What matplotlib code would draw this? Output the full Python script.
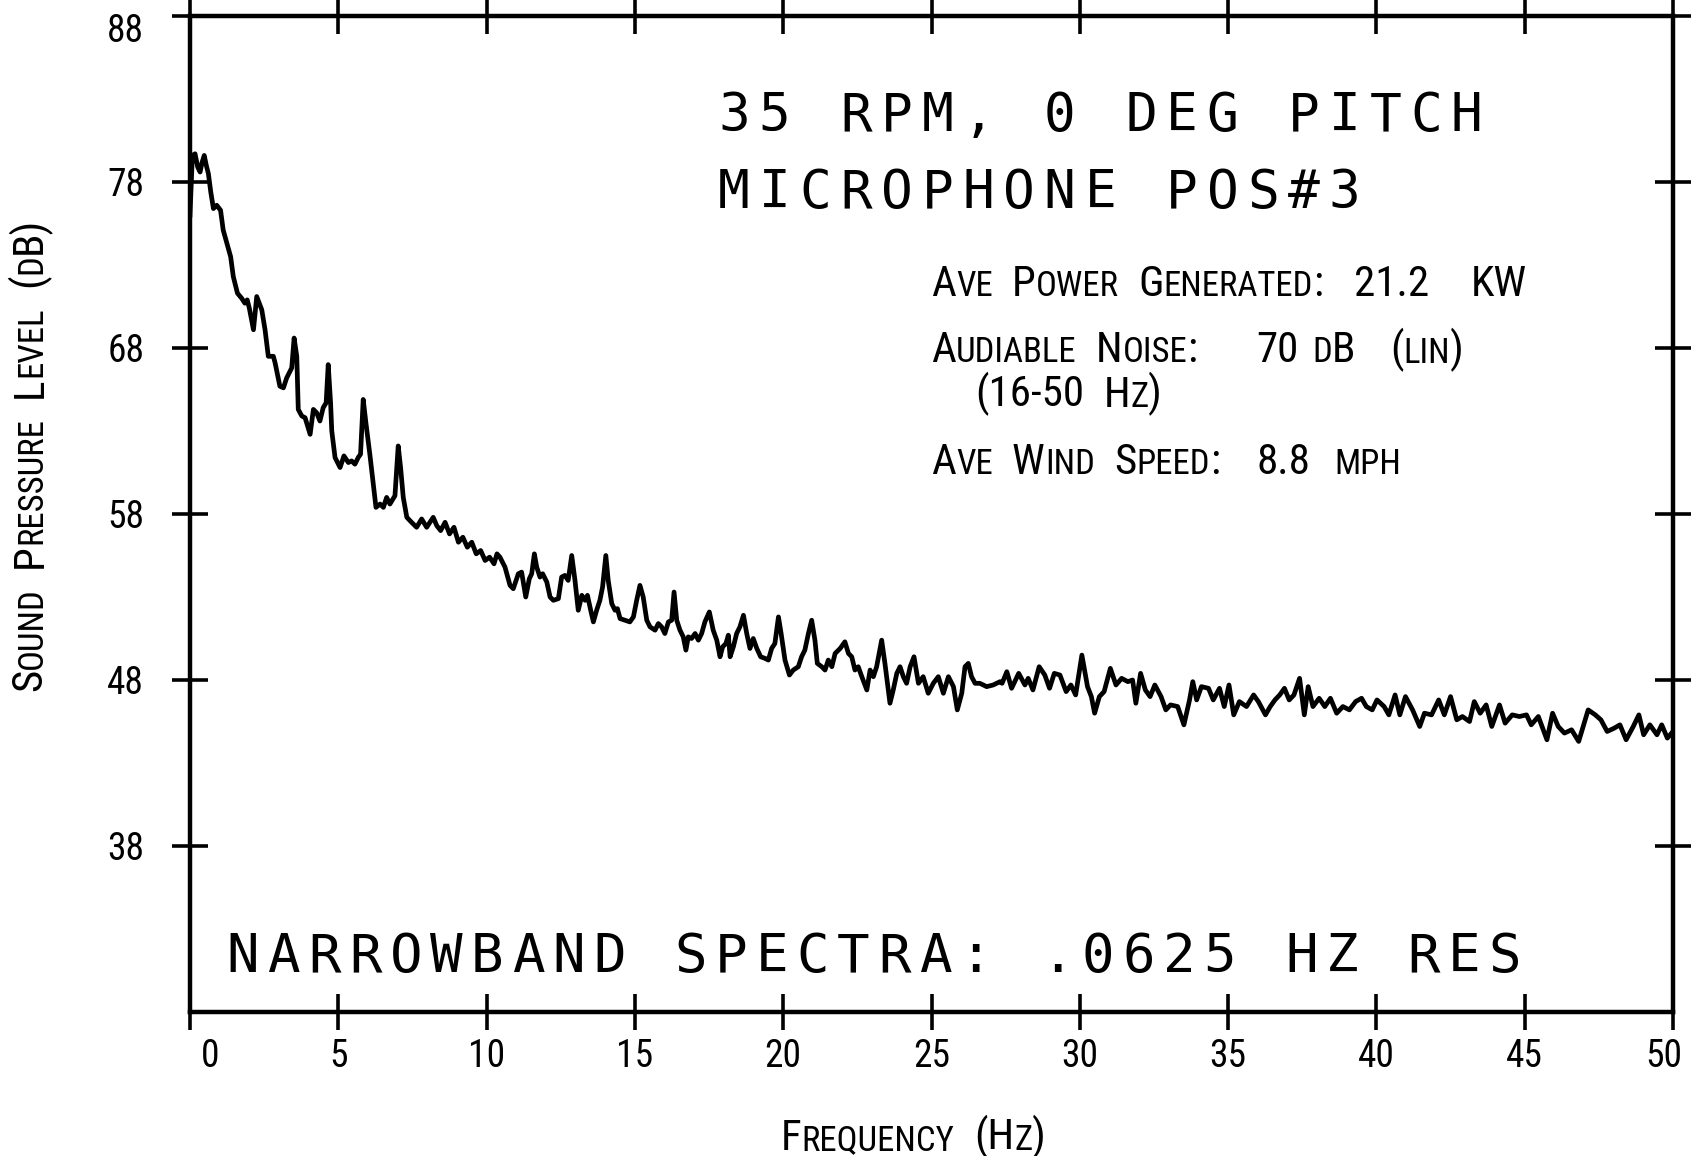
import matplotlib
matplotlib.use("Agg")
import matplotlib.pyplot as plt
from matplotlib import font_manager
from matplotlib.transforms import ScaledTranslation

# ---------------- data ----------------
freq = [0.00, 0.08, 0.17, 0.26, 0.34, 0.41, 0.48, 0.55, 0.62, 0.70, 0.79, 0.90, 1.03, 1.12, 1.29, 1.37,
        1.46, 1.60, 1.74, 1.85, 1.93, 2.00, 2.14, 2.25, 2.42, 2.53, 2.64, 2.81, 2.87, 3.03, 3.15, 3.26,
        3.43, 3.51, 3.60, 3.65, 3.77, 3.88, 4.05, 4.16, 4.27, 4.38, 4.49, 4.59, 4.66, 4.74, 4.78, 4.89,
        5.06, 5.19, 5.34, 5.45, 5.56, 5.67, 5.75, 5.84, 5.93, 6.07, 6.18, 6.27, 6.41, 6.52, 6.63, 6.74,
        6.91, 7.02, 7.10, 7.19, 7.31, 7.47, 7.64, 7.81, 7.98, 8.20, 8.32,
        8.45, 8.60, 8.75, 8.90, 9.05, 9.20, 9.35, 9.50, 9.65, 9.80, 9.95, 10.10, 10.25, 10.35,
        10.45, 10.62, 10.79, 10.90, 11.07, 11.18, 11.32, 11.44, 11.52, 11.61, 11.69, 11.80, 11.89, 12.03,
        12.14, 12.25, 12.42, 12.53, 12.64, 12.75, 12.87, 12.98, 13.09, 13.21, 13.32, 13.40, 13.51, 13.60,
        13.71, 13.82, 13.91, 14.02, 14.10, 14.22, 14.33, 14.41, 14.50, 14.67, 14.83, 14.95, 15.06, 15.17,
        15.28, 15.40, 15.51, 15.68, 15.79, 15.90, 16.01, 16.13, 16.24, 16.32, 16.41, 16.52, 16.63, 16.72,
        16.80, 16.91, 17.03, 17.14, 17.25, 17.36, 17.51, 17.64, 17.76, 17.87, 17.96, 18.07, 18.15, 18.21,
        18.32, 18.43, 18.54, 18.66, 18.77, 18.88, 18.99, 19.11, 19.24, 19.39, 19.50, 19.61, 19.72, 19.84,
        19.93, 20.06, 20.21, 20.34, 20.51, 20.62, 20.73, 20.85, 20.96, 21.07, 21.15, 21.30, 21.41, 21.52,
        21.64, 21.75, 21.92, 22.08, 22.20, 22.31, 22.42, 22.53, 22.65, 22.82, 22.93, 23.04, 23.15, 23.32,
        23.43, 23.60, 23.71, 23.83, 23.94, 24.05, 24.16, 24.28, 24.41, 24.56, 24.72, 24.89, 25.06, 25.23,
        25.40, 25.57, 25.74, 25.87, 26.02, 26.13, 26.24, 26.35, 26.47, 26.63, 26.86, 27.08, 27.31,
        27.38, 27.54, 27.70, 27.94, 28.15, 28.26, 28.42, 28.63, 28.82, 28.98, 29.14, 29.33, 29.54, 29.70,
        29.86, 30.07, 30.26, 30.39, 30.50, 30.66, 30.82, 31.03, 31.22, 31.41, 31.62, 31.78, 31.89, 32.05,
        32.21, 32.37, 32.53, 32.74, 32.90, 33.06, 33.30, 33.51, 33.70, 33.81, 33.94, 34.10, 34.34, 34.50,
        34.71, 34.87, 35.03, 35.19, 35.38, 35.62, 35.86, 36.02, 36.26, 36.42, 36.58, 36.74, 36.90, 37.06,
        37.22, 37.41, 37.57, 37.70, 37.86, 38.07, 38.26, 38.45, 38.66, 38.87, 39.09, 39.30, 39.50, 39.66,
        39.86, 40.02, 40.26, 40.42, 40.63, 40.79, 40.98, 41.22, 41.46, 41.62, 41.86, 42.10, 42.29, 42.50,
        42.71, 42.90, 43.14, 43.30, 43.50, 43.70, 43.89, 44.15, 44.34, 44.58, 44.82, 45.06, 45.22, 45.46,
        45.75, 45.94, 46.13, 46.34, 46.58, 46.82, 47.14, 47.38, 47.57, 47.78, 48.02, 48.21, 48.42, 48.66,
        48.85, 49.01, 49.22, 49.46, 49.62, 49.81, 50.00]

spl = [76.0, 79.6, 79.7, 78.9, 78.6, 79.2, 79.6, 79.0, 78.5, 77.4, 76.4, 76.6, 76.3, 75.1, 74.0, 73.5,
       72.3, 71.3, 71.0, 70.7, 70.9, 70.4, 69.1, 71.1, 70.3, 69.1, 67.5, 67.5, 67.1, 65.7, 65.6, 66.2,
       66.8, 68.6, 67.5, 64.3, 63.9, 63.8, 62.8, 64.3, 64.1, 63.6, 64.4, 64.7, 67.0, 64.7, 63.0, 61.4,
       60.8, 61.5, 61.1, 61.2, 61.0, 61.4, 61.6, 64.9, 63.5, 61.5, 59.8, 58.4, 58.6, 58.4, 59.0, 58.6,
       59.1, 62.1, 60.8, 59.0, 57.8, 57.5, 57.2, 57.7, 57.2, 57.8, 57.3,
       57.0, 57.5, 56.8, 57.2, 56.3, 56.6, 56.0, 56.3, 55.6, 55.8, 55.2, 55.4, 55.0, 55.6,
       55.4, 54.8, 53.7, 53.5, 54.4, 54.5, 53.0, 54.1, 54.4, 55.6, 54.8, 54.2, 54.4, 53.9,
       53.0, 52.8, 52.9, 54.2, 54.3, 54.0, 55.5, 54.0, 52.2, 53.1, 52.8, 53.1, 52.2, 51.5,
       52.2, 52.8, 53.6, 55.5, 54.0, 52.6, 52.2, 52.3, 51.7, 51.6, 51.5, 51.8, 52.8, 53.7,
       53.0, 51.6, 51.2, 51.0, 51.4, 51.2, 50.8, 51.5, 51.6, 53.3, 51.6, 51.0, 50.6, 49.8,
       50.6, 50.5, 50.8, 50.4, 50.8, 51.5, 52.1, 51.0, 50.4, 49.4, 50.0, 50.2, 50.7, 49.4,
       50.0, 50.8, 51.2, 51.9, 50.8, 49.9, 50.5, 49.9, 49.4, 49.3, 49.2, 49.9, 50.2, 51.8,
       50.8, 49.2, 48.3, 48.6, 48.8, 49.4, 49.8, 50.8, 51.6, 50.4, 49.0, 48.8, 48.6, 49.2,
       48.8, 49.6, 49.9, 50.3, 49.6, 49.4, 48.6, 48.8, 48.2, 47.4, 48.6, 48.2, 48.8, 50.4,
       49.0, 46.6, 47.4, 48.4, 48.8, 48.2, 47.8, 48.8, 49.4, 47.8, 48.2, 47.2, 47.8, 48.2,
       47.2, 48.2, 47.6, 46.2, 47.2, 48.8, 49.0, 48.2, 47.8, 47.8, 47.6, 47.7, 47.9,
       47.8, 48.5, 47.5, 48.4, 47.7, 48.1, 47.4, 48.8, 48.3, 47.5, 48.4, 48.3, 47.3, 47.7,
       47.1, 49.5, 47.6, 47.0, 46.0, 47.0, 47.3, 48.7, 47.7, 48.1, 47.9, 48.0, 46.6, 48.4,
       47.4, 47.0, 47.7, 47.0, 46.2, 46.5, 46.4, 45.3, 46.8, 47.9, 46.8, 47.6, 47.5, 46.8,
       47.5, 46.4, 47.7, 45.9, 46.7, 46.4, 47.1, 46.7, 45.9, 46.4, 46.8, 47.1, 47.5, 46.8,
       47.1, 48.1, 45.9, 47.6, 46.4, 46.9, 46.4, 46.9, 46.0, 46.4, 46.2, 46.7, 46.9, 46.4,
       46.2, 46.8, 46.4, 45.9, 47.1, 45.9, 47.0, 46.2, 45.2, 46.0, 45.9, 46.8, 45.9, 47.0,
       45.6, 45.8, 45.5, 46.7, 46.0, 46.5, 45.2, 46.5, 45.4, 45.9, 45.8, 45.9, 45.3, 45.8,
       44.4, 46.0, 45.2, 44.8, 45.0, 44.3, 46.2, 45.9, 45.6, 44.9, 45.1, 45.3, 44.4, 45.2,
       45.9, 44.7, 45.3, 44.7, 45.3, 44.5, 44.9]

x_ticks = [0, 5, 10, 15, 20, 25, 30, 35, 40, 45, 50]
x_tick_labels = ["0", "5", "10", "15", "20", "25", "30", "35", "40", "45", "50"]
y_ticks = [38, 48, 58, 68, 78, 88]
y_tick_labels = ["38", "48", "58", "68", "78", "88"]

title_lines = ["35 RPM, 0 DEG PITCH", "MICROPHONE POS#3"]
footer_text = "NARROWBAND SPECTRA: .0625 HZ RES"
x_label = "Frequency (Hz)"
y_label = "Sound Pressure Level (dB)"
info_power = ["Ave Power Generated:", "21.2", "KW"]
info_noise = ["Audiable Noise:", "70", "dB", "(lin)"]
info_band = ["(16-50 Hz)"]
info_wind = ["Ave Wind Speed:", "8.8", "mph"]

# ---------------- fonts ----------------
def pick_narrow():
    fl = font_manager.fontManager.ttflist
    names = set(f.name for f in fl)
    for cand in ["Liberation Sans Narrow", "Arial Narrow", "Roboto Condensed",
                 "Open Sans Condensed", "Noto Sans Condensed", "DejaVu Sans Condensed"]:
        if cand in names:
            return {"family": cand}
    for f in fl:
        if str(f.stretch) in ("condensed", "semi-condensed", "extra-condensed") and f.style == "normal" \
                and str(f.weight) in ("400", "normal", "regular", "book"):
            return {"family": f.name, "stretch": f.stretch}
    return {"family": "DejaVu Sans"}

NARROW = pick_narrow()
MONO = "DejaVu Sans Mono"

# ---------------- figure ----------------
W, H = 1694, 1156
fig = plt.figure(figsize=(W / 100, H / 100), dpi=100, facecolor="white")
L, R, T, B = 190, 1673, 16, 1012
ax = fig.add_axes([L / W, (H - B) / H, (R - L) / W, (B - T) / H])

ax.plot(freq, spl, color="black", lw=3.4, solid_joinstyle="round")
ax.set_xlim(0, 50)
ax.set_ylim(28, 88)
ax.set_xticks(x_ticks, labels=x_tick_labels)
ax.set_yticks(y_ticks, labels=y_tick_labels)
for s in ax.spines.values():
    s.set_linewidth(3.2)
ax.tick_params(direction="inout", length=26, width=2.6, top=True, right=True,
               labeltop=False, labelright=False, labelsize=27, colors="black")
ax.tick_params(axis="y", pad=20)
ax.tick_params(axis="x", pad=6)
for lbl in ax.get_xticklabels() + ax.get_yticklabels():
    lbl.set_fontfamily(NARROW["family"])
    if "stretch" in NARROW:
        lbl.set_fontstretch(NARROW["stretch"])

# small individual label offsets as in the original plot
xt = ax.xaxis.get_major_ticks()
xt[0].label1.set_transform(xt[0].label1.get_transform() + ScaledTranslation(0.20, 0, fig.dpi_scale_trans))
xt[-1].label1.set_transform(xt[-1].label1.get_transform() + ScaledTranslation(-0.09, 0, fig.dpi_scale_trans))
yt = ax.yaxis.get_major_ticks()
yt[-1].label1.set_transform(yt[-1].label1.get_transform() + ScaledTranslation(0, -0.12, fig.dpi_scale_trans))

# ---------------- helpers ----------------
K = 0.21


def sc_runs(word):
    runs = []
    for ch in word:
        small = ch.islower()
        c = ch.upper()
        if runs and runs[-1][1] == small:
            runs[-1][0] += c
        else:
            runs.append([c, small])
    return runs


def sc_text(x, y, s, big, small, transform, rotation=0, space=None):
    font = {"family": NARROW["family"]}
    if "stretch" in NARROW:
        font["stretch"] = NARROW["stretch"]
    if space is None:
        space = 0.45 * big
    prev, prev_size = None, None
    for wi, word in enumerate(s.split()):
        for ri, (txt, is_small) in enumerate(sc_runs(word)):
            size = small if is_small else big
            gap = space if (ri == 0 and wi > 0) else 0.0
            if prev is None:
                if rotation == 0:
                    t = ax.text(x, y, txt, transform=transform, fontsize=size, ha="left",
                                va="baseline", color="black", **font)
                else:
                    t = ax.text(x, y, txt, transform=transform, fontsize=size, rotation=90,
                                ha="center", va="bottom", color="black", **font)
            else:
                shift = K * (prev_size - size)
                if rotation == 0:
                    t = ax.annotate(txt, xy=(1, 0), xycoords=prev, xytext=(gap, shift),
                                    textcoords="offset points", fontsize=size, ha="left",
                                    va="bottom", color="black", **font)
                else:
                    t = ax.annotate(txt, xy=(1, 1), xycoords=prev, xytext=(-shift, gap),
                                    textcoords="offset points", fontsize=size, rotation=90,
                                    ha="right", va="bottom", color="black", **font)
            prev, prev_size = t, size
    return prev


def mono_text(x0, y, s, pitch, size):
    for i, ch in enumerate(s):
        if ch == " ":
            continue
        ax.text(x0 + i * pitch, y, ch, transform=ax.transAxes, ha="center", va="baseline",
                fontsize=size, family=MONO, color="black")


def axx(px):
    return (px - L) / (R - L)


def axy(py):
    return (B - py) / (B - T)


# ---------------- plotter lettering ----------------
pitch = 40.7 / (R - L)
mono_text(axx(734), axy(131), title_lines[0], pitch, 38)
mono_text(axx(734), axy(208), title_lines[1], pitch, 38)
mono_text(axx(243), axy(972), footer_text, pitch, 39)

# ---------------- info block (small caps) ----------------
BIG, SMALL = 31, 25
sc_text(axx(931), axy(296), info_power[0], BIG, SMALL, ax.transAxes)
sc_text(axx(1354), axy(296), info_power[1], BIG, SMALL, ax.transAxes)
sc_text(axx(1471), axy(296), info_power[2], BIG, SMALL, ax.transAxes)

sc_text(axx(931), axy(362), info_noise[0], BIG, SMALL, ax.transAxes)
sc_text(axx(1256), axy(362), info_noise[1], BIG, SMALL, ax.transAxes)
sc_text(axx(1312), axy(362), info_noise[2], BIG, SMALL, ax.transAxes)
sc_text(axx(1390), axy(362), info_noise[3], BIG, SMALL, ax.transAxes)

sc_text(axx(975), axy(406), info_band[0], BIG, SMALL, ax.transAxes)

sc_text(axx(931), axy(474), info_wind[0], BIG, SMALL, ax.transAxes)
sc_text(axx(1256), axy(474), info_wind[1], BIG, SMALL, ax.transAxes)
sc_text(axx(1334), axy(474), info_wind[2], BIG, SMALL, ax.transAxes)

# ---------------- axis titles (small caps) ----------------
sc_text(781 / W, (H - 1150) / H, x_label, 31, 25, fig.transFigure)
sc_text(30 / W, (H - 691) / H, y_label, 31, 25, fig.transFigure, rotation=90)

fig.savefig("out.png", dpi=100, facecolor="white")
